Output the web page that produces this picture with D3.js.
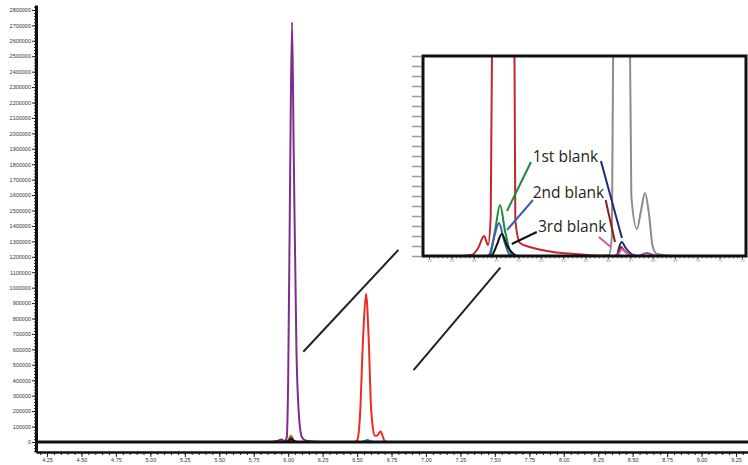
<!DOCTYPE html>
<svg width="748" height="465"></svg>
<script src="https://d3js.org/d3.v7.min.js"></script>
<style>
  body { margin: 0; background: #fff; }
  .axis text { font-family: "Liberation Sans", Arial, sans-serif; font-size: 5.5px; fill: #333; }
  .trace { fill: none; stroke-width: 2px; stroke-linejoin: round; }
  .note { font-family: "Open Sans", sans-serif; font-size: 15.5px; fill: #231f20; }
</style>
<script>
// main chromatogram, [time (min), intensity]
var purple = [[5.88,0],[5.92,6000],[5.95,16000],[5.975,6000],[5.99,30000],[6.00,400000],[6.015,1800000],[6.028,2720000],[6.04,1900000],[6.06,600000],[6.08,150000],[6.10,30000],[6.13,8000],[6.2,2000],[6.3,0]];
var red = [[6.48,0],[6.50,10000],[6.52,150000],[6.545,700000],[6.565,960000],[6.585,650000],[6.60,250000],[6.615,90000],[6.63,40000],[6.65,45000],[6.67,70000],[6.685,40000],[6.70,5000],[6.72,0]];
var olive = [[5.98,0],[6.00,10000],[6.02,42000],[6.04,10000],[6.06,0]];
var darkRed = [[5.98,0],[6.00,8000],[6.02,26000],[6.04,8000],[6.06,0]];
var black = [[5.99,0],[6.01,6000],[6.025,20000],[6.04,6000],[6.06,0]];
var teal = [[6.54,0],[6.56,9000],[6.575,12000],[6.59,8000],[6.61,0]];
var connectors = [[[6.11, 585000], [6.80, 1245000]], [[6.91, 465000], [7.54, 1130000]]];

var xTicks = [4.25, 4.5, 4.75, 5, 5.25, 5.5, 5.75, 6, 6.25, 6.5, 6.75, 7, 7.25, 7.5, 7.75, 8, 8.25, 8.5, 8.75, 9, 9.25];
var yTicks = d3.range(0, 2800001, 100000);

// inset (zoomed view), [time, relative intensity]
var insetTicks = [5.8, 5.9, 6.0, 6.1, 6.2, 6.3, 6.4, 6.5, 6.6, 6.7, 6.8, 6.9, 7.0, 7.1, 7.2];
var inRed = [[5.95,0],[5.99,1],[6.02,8],[6.046,20],[6.064,11],[6.076,40],[6.085,300],[6.13,420],[6.18,300],[6.186,36],[6.207,13],[6.25,9],[6.283,7],[6.355,4],[6.45,2],[6.507,1],[6.6,0],[7.25,0]];
var inGreen = [[6.06,0],[6.073,1],[6.095,25],[6.118,51],[6.14,25],[6.171,1],[6.19,0]];
var inBlue = [[6.055,0],[6.068,1],[6.09,18],[6.113,33],[6.135,16],[6.162,1],[6.18,0]];
var inBlack = [[6.07,0],[6.082,1],[6.105,12],[6.125,22],[6.15,10],[6.185,1],[6.2,0]];
var inGray = [[5.77,0],[6.55,0],[6.605,1],[6.618,20],[6.63,400],[6.69,420],[6.705,60],[6.73,27],[6.748,45],[6.766,63],[6.785,40],[6.80,10],[6.82,2],[6.9,0],[7.25,0]];
var inNavy = [[6.63,0],[6.641,1],[6.652,10],[6.662,14],[6.68,8],[6.713,1],[6.73,0]];
var inDarkRed = [[6.63,0],[6.642,1],[6.65,6],[6.659,9],[6.675,5],[6.70,1],[6.72,0]];
var inPink = [[6.63,0],[6.645,1],[6.655,5],[6.663,7],[6.68,4],[6.70,1],[6.72,0]];
var inPurple = [[6.74,0],[6.76,2],[6.775,3],[6.79,2],[6.81,0]];
var notes = [
  {text: "1st blank", at: [6.259, 94], from: [6.256, 94], to: [6.149, 45], color: "#1a8a3c"},
  {text: "2nd blank", at: [6.259, 58], from: [6.265, 56], to: [6.149, 26], color: "#3a62b4"},
  {text: "3rd blank", at: [6.283, 24], from: [6.282, 24], to: [6.170, 12], color: "#111"}
];
var sideLines = [
  {from: [6.569, 95], to: [6.663, 18], color: "#1f2a78"},
  {from: [6.590, 56], to: [6.632, 14], color: "#8b1c1c"},
  {from: [6.560, 19], to: [6.613, 9], color: "#c65aa8"}
];

var svg = d3.select("svg");

var x = d3.scaleLinear().domain([4.17, 9.337]).range([36, 748]);
var y = d3.scaleLinear().domain([-65000, 2832000]).range([452, 5]);

var line = d3.line()
    .x(function(d) { return x(d[0]); })
    .y(function(d) { return y(d[1]); })
    .curve(d3.curveMonotoneX);

// y axis with minor ticks
svg.append("g")
    .attr("class", "axis")
    .attr("transform", "translate(36,0)")
    .call(d3.axisLeft(y).tickValues(d3.range(-60000, 2832000, 20000)).tickSize(2).tickFormat(""))
    .call(function(g) { g.select(".domain").remove(); g.selectAll("line").attr("stroke", "#222"); });
svg.append("g")
    .attr("class", "axis")
    .attr("transform", "translate(36,0)")
    .call(d3.axisLeft(y).tickValues(yTicks).tickSize(4).tickPadding(1).tickSizeOuter(0).tickFormat(d3.format("d")))
    .call(function(g) {
      g.select(".domain").attr("stroke-width", 3).attr("stroke", "#111");
      g.selectAll("line").attr("stroke", "#222");
    });

// x axis with minor ticks
svg.append("g")
    .attr("class", "axis")
    .attr("transform", "translate(0,452)")
    .call(d3.axisBottom(x).tickValues(d3.range(4.2, 9.34, 0.05)).tickSize(3).tickFormat(""))
    .call(function(g) { g.select(".domain").remove(); g.selectAll("line").attr("stroke", "#222"); });
svg.append("g")
    .attr("class", "axis")
    .attr("transform", "translate(0,452)")
    .call(d3.axisBottom(x).tickValues(xTicks).tickSize(5).tickPadding(1).tickSizeOuter(0).tickFormat(d3.format(".2f")))
    .call(function(g) {
      g.select(".domain").attr("stroke-width", 2.5).attr("stroke", "#111");
      g.selectAll("line").attr("stroke", "#222");
    });

// traces
var traces = [[teal, "#2a8aa0"], [purple, "#7d2e8c"], [red, "#ee2a24"], [olive, "#8d8a2c"], [darkRed, "#8b1a1a"], [black, "#111"]];
traces.forEach(function(t) {
  svg.append("path").attr("class", "trace").datum(t[0]).attr("d", line).attr("stroke", t[1]);
});

// zero line
svg.append("line")
    .attr("x1", x.range()[0]).attr("x2", x.range()[1])
    .attr("y1", y(0)).attr("y2", y(0))
    .attr("stroke", "#111").attr("stroke-width", 3);

// connector lines to inset
connectors.forEach(function(c) {
  svg.append("path").datum(c).attr("d", d3.line().x(function(d) { return x(d[0]); }).y(function(d) { return y(d[1]); }))
      .attr("stroke", "#222").attr("stroke-width", 2).attr("fill", "none");
});

// ---- inset ----
var ix = d3.scaleLinear().domain([5.773, 7.218]).range([423, 746]);
var iy = d3.scaleLinear().domain([0, 200]).range([256, 56]);

var iline = d3.line()
    .x(function(d) { return ix(d[0]); })
    .y(function(d) { return iy(d[1]); })
    .curve(d3.curveMonotoneX);

svg.append("rect").attr("x", 423).attr("y", 56).attr("width", 323).attr("height", 200).attr("fill", "#fff");

svg.append("g")
    .attr("transform", "translate(421,0)")
    .call(d3.axisLeft(iy).tickValues(d3.range(0, 201, 10)).tickSize(9).tickFormat(""))
    .call(function(g) { g.select(".domain").remove(); g.selectAll("line").attr("stroke", "#999").attr("stroke-width", 1.5); });

svg.append("g")
    .attr("transform", "translate(0,257)")
    .call(d3.axisBottom(ix).tickValues(d3.range(5.8, 7.21, 0.02)).tickSize(1.5).tickFormat(""))
    .call(function(g) { g.select(".domain").remove(); g.selectAll("line").attr("stroke", "#777"); });
svg.append("g")
    .attr("transform", "translate(0,257)")
    .call(d3.axisBottom(ix).tickValues(insetTicks).tickSize(2.5).tickPadding(0.5).tickFormat(d3.format(".1f")))
    .call(function(g) {
      g.select(".domain").remove();
      g.selectAll("line").attr("stroke", "#555");
      g.selectAll("text").style("font-size", "3px").style("fill", "#777");
    });

svg.append("clipPath").attr("id", "inset-clip")
  .append("rect").attr("x", 423).attr("y", 56).attr("width", 323).attr("height", 200);

var inset = svg.append("g").attr("clip-path", "url(#inset-clip)");
var insetTraces = [[inRed, "#c1272d"], [inGray, "#8c8c8c"], [inPurple, "#9a4aa0"], [inGreen, "#1a8a3c"], [inBlue, "#3a62b4"], [inBlack, "#111"],
                   [inNavy, "#1f2a78"], [inDarkRed, "#8b1c1c"], [inPink, "#c65aa8"]];
insetTraces.forEach(function(t) {
  inset.append("path").attr("class", "trace").datum(t[0]).attr("d", iline).attr("stroke", t[1]);
});

var straight = d3.line().x(function(d) { return ix(d[0]); }).y(function(d) { return iy(d[1]); });
notes.forEach(function(n) {
  svg.append("path").datum([n.from, n.to]).attr("d", straight).attr("stroke", n.color).attr("stroke-width", 2).attr("fill", "none");
  svg.append("text").attr("class", "note").attr("x", ix(n.at[0]) + 1).attr("y", iy(n.at[1])).text(n.text);
});
sideLines.forEach(function(s) {
  svg.append("path").datum([s.from, s.to]).attr("d", straight).attr("stroke", s.color).attr("stroke-width", 2).attr("fill", "none");
});

svg.append("rect").attr("x", 423).attr("y", 56).attr("width", 323).attr("height", 200)
    .attr("fill", "none").attr("stroke", "#111").attr("stroke-width", 3);
</script>
